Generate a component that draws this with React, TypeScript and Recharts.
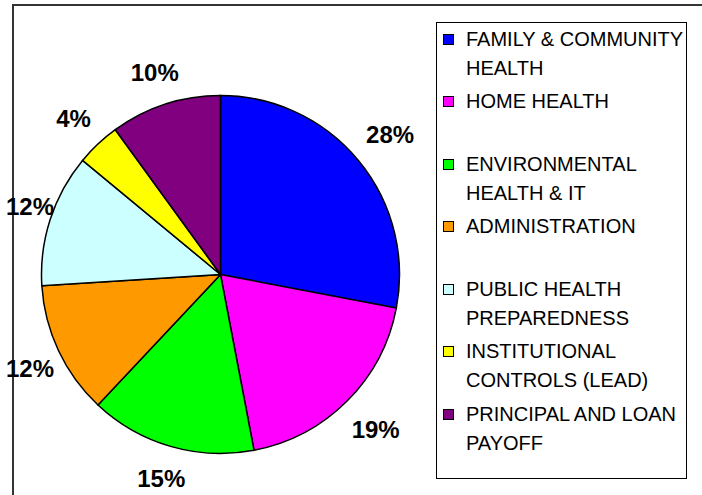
import React from "react";
import { PieChart, Pie, Cell, Legend } from "recharts";

const categories = [
  "FAMILY & COMMUNITY\nHEALTH",
  "HOME HEALTH",
  "ENVIRONMENTAL\nHEALTH & IT",
  "ADMINISTRATION",
  "PUBLIC HEALTH\nPREPAREDNESS",
  "INSTITUTIONAL\nCONTROLS (LEAD)",
  "PRINCIPAL AND LOAN\nPAYOFF",
];
const shares = [28, 19, 15, 12, 12, 4, 10];
const colors = [
  "#0000FF",
  "#FF00FF",
  "#00FF00",
  "#FF9900",
  "#CCFFFF",
  "#FFFF00",
  "#800080",
];

const data = categories.map((name, i) => ({ name, value: shares[i] }));

const FONT = '"Liberation Sans", Arial, sans-serif';
const RAD = Math.PI / 180;

// percent labels sit just outside the rim, pushed out by half the text box
const renderLabel = (props: any) => {
  const { cx, cy, midAngle, outerRadius, percent } = props;
  const text = `${Math.round(percent * 100)}%`;
  const halfW = ((text.length - 1) * 0.556 + 0.889) * 12;
  const halfH = 12;
  const ux = Math.cos(-midAngle * RAD);
  const uy = Math.sin(-midAngle * RAD);
  const r = outerRadius + 15 + halfW * Math.abs(ux) + halfH * Math.abs(uy);
  let x = cx + r * ux;
  const y = cy + r * uy;
  if (x - halfW < 6) x = 6 + halfW;
  return (
    <text
      x={x}
      y={y}
      textAnchor="middle"
      dominantBaseline="central"
      fontFamily={FONT}
      fontWeight="bold"
      fontSize={24}
      fill="#000"
    >
      {text}
    </text>
  );
};

const LegendBox = () => (
  <div
    style={{
      width: 251,
      height: 457,
      boxSizing: "border-box",
      border: "1px solid #000",
      background: "#fff",
      paddingTop: 1.5,
      fontFamily: FONT,
      fontSize: 20,
      color: "#000",
    }}
  >
    {categories.map((name, i) => (
      <div key={i} style={{ position: "relative", height: 62.5 }}>
        <div
          style={{
            position: "absolute",
            left: 6,
            top: 9,
            width: 11,
            height: 11,
            boxSizing: "border-box",
            border: "1.5px solid #000",
            background: colors[i],
          }}
        />
        <div
          style={{
            position: "absolute",
            left: 29,
            top: 0,
            lineHeight: "29px",
            whiteSpace: "nowrap",
          }}
        >
          {name.split("\n").map((line, j) => (
            <div key={j}>{line}</div>
          ))}
        </div>
      </div>
    ))}
  </div>
);

export default function App() {
  return (
    <div
      style={{
        position: "absolute",
        left: 0,
        top: 0,
        width: 702,
        height: 495,
        overflow: "hidden",
        background: "#fff",
      }}
    >
      <div
        style={{
          position: "absolute",
          left: 12,
          top: 4,
          width: 720,
          height: 520,
          borderLeft: "2px solid #333",
          borderTop: "2px solid #333",
        }}
      />
      <PieChart
        width={702}
        height={495}
        margin={{ top: 0, right: 0, bottom: 0, left: 0 }}
        style={{ position: "absolute", left: 0, top: 0 }}
      >
        <Pie
          data={data}
          dataKey="value"
          nameKey="name"
          cx={220.5}
          cy={274.5}
          outerRadius={179}
          startAngle={90}
          endAngle={-270}
          stroke="#000"
          strokeWidth={1.5}
          label={renderLabel}
          labelLine={false}
          isAnimationActive={false}
        >
          {data.map((d, i) => (
            <Cell key={d.name} fill={colors[i]} />
          ))}
        </Pie>
        <Legend
          layout="vertical"
          align="right"
          verticalAlign="middle"
          content={() => <LegendBox />}
          wrapperStyle={{ left: 436, top: 22, width: 251, height: 457 }}
        />
      </PieChart>
    </div>
  );
}
